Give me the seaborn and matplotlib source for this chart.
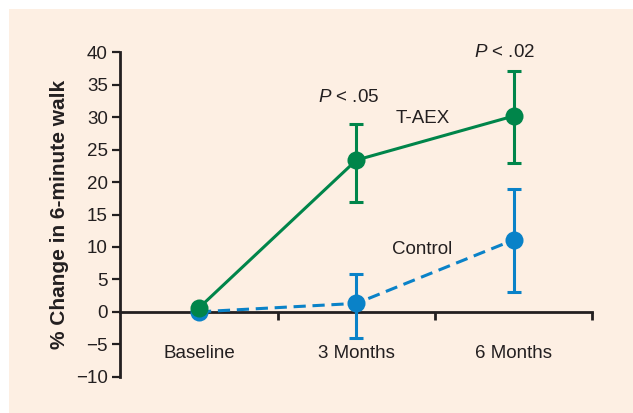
import pandas as pd
import numpy as np
import matplotlib
matplotlib.use("Agg")
import matplotlib.pyplot as plt
from matplotlib.patches import Rectangle
import seaborn as sns

# data
timepoints = ["Baseline", "3 Months", "6 Months"]
taex_mean = [0.6, 23.4, 30.2]
taex_low = [0.6, 16.9, 23.0]
taex_high = [0.6, 29.0, 37.1]
control_mean = [0.0, 1.3, 11.1]
control_low = [0.0, -4.1, 3.0]
control_high = [0.0, 5.9, 19.0]
y_ticks = [-10, -5, 0, 5, 10, 15, 20, 25, 30, 35, 40]

GREEN = "#00854A"
BLUE = "#0A82C8"
PEACH = "#FDEFE3"
INK = "#231F20"

sns.set_theme(style="white")
plt.rcParams["font.family"] = ["Liberation Sans Narrow", "Liberation Sans", "DejaVu Sans"]
plt.rcParams["mathtext.fontset"] = "custom"
plt.rcParams["mathtext.it"] = "Liberation Sans:italic"
plt.rcParams["mathtext.rm"] = "Liberation Sans"

df = pd.DataFrame({
    "time": list(range(3)) * 2,
    "change": taex_mean + control_mean,
    "group": ["T-AEX"] * 3 + ["Control"] * 3,
})

fig = plt.figure(figsize=(6.33, 4.13), dpi=100)
fig.patch.set_facecolor("white")
fig.patches.append(Rectangle((9 / 633, 0), 1, 1 - 9 / 413, transform=fig.transFigure,
                             facecolor=PEACH, edgecolor="none", zorder=-5))
ax = fig.add_axes([0.19, 0.088, 0.746, 0.785])
ax.set_zorder(2)
ax.set_facecolor("none")

# control first so T-AEX sits on top at baseline
for name, mean, low, high, color, ls in [
    ("Control", control_mean, control_low, control_high, BLUE, (0, (4, 2.2))),
    ("T-AEX", taex_mean, taex_low, taex_high, GREEN, "-"),
]:
    sub = df[df["group"] == name]
    x = sub["time"].to_numpy()
    m = np.array(mean)
    yerr = np.vstack([m - np.array(low), np.array(high) - m])
    ax.errorbar(x[1:], m[1:], yerr=yerr[:, 1:], fmt="none", ecolor=color,
                elinewidth=2.2, capsize=5, capthick=2.2, zorder=3)
    sns.lineplot(data=sub, x="time", y="change", ax=ax, color=color,
                 linewidth=2.2, linestyle=ls, marker="o", markersize=13,
                 markeredgewidth=0, legend=False, zorder=4)

ax.set_xlim(-0.5, 2.5)
ax.set_ylim(-10, 40)
ax.set_yticks(y_ticks)
ax.set_yticklabels([str(t).replace("-", "\u2212") for t in y_ticks])
ax.set_xticks(range(3))
ax.set_xticklabels(timepoints)
ax.set_xticks([0.5, 1.5, 2.5], minor=True)

for s in ["top", "right"]:
    ax.spines[s].set_visible(False)
ax.spines["bottom"].set_position(("data", 0))
for s in ["left", "bottom"]:
    ax.spines[s].set_color(INK)
    ax.spines[s].set_linewidth(2)

ax.tick_params(axis="y", which="major", direction="out", length=6, width=1.6,
               color=INK, labelsize=13.5, labelcolor=INK, pad=3, left=True)
ax.tick_params(axis="x", which="major", length=0, labelsize=13.5,
               labelcolor=INK, pad=24)
ax.tick_params(axis="x", which="minor", direction="out", length=6, width=2,
               color=INK, bottom=True)

ax.set_xlabel("")
ax.set_ylabel("% Change in 6-minute walk", fontsize=15, fontweight="bold",
              color=INK, labelpad=5)

ax.text(0.95, 33.0, "$\\it{P}$ < .05", fontsize=13.5, color=INK, ha="center", va="center")
ax.text(1.94, 40.0, "$\\it{P}$ < .02", fontsize=13.5, color=INK, ha="center", va="center")
ax.text(1.42, 29.8, "T-AEX", fontsize=13.5, color=INK, ha="center", va="center")
ax.text(1.42, 9.6, "Control", fontsize=13.5, color=INK, ha="center", va="center")

fig.savefig("out.png", dpi=100)
